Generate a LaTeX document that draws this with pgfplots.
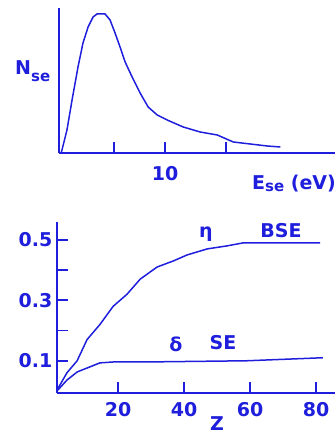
\documentclass[border=0pt]{standalone}
\usepackage{pgfplots}
\pgfplotsset{compat=1.18}
\usepackage{fontspec}
\setmainfont{DejaVu Sans}
\definecolor{ink}{RGB}{30,30,220}
\newcommand{\labfont}{\fontsize{19}{19}\selectfont\bfseries}
\newcommand{\subfont}{\fontsize{15}{15}\selectfont\bfseries}

\pgfplotsset{
  sketch/.style={
    scale only axis,
    axis lines=left,
    axis line style={-, line width=1.8pt, draw=ink},
    every tick/.style={draw=ink, line width=1.8pt},
    tick align=inside,
    ticklabel style={font=\labfont, text=ink, inner sep=0pt},
    /pgf/number format/assume math mode=true,
    clip=false,
  },
  curve/.style={draw=ink, line width=1.5pt, no marks},
}

\begin{document}
\begin{tikzpicture}[x=1pt,y=1pt]
\useasboundingbox (0,0) rectangle (335,434);
\clip (0,0) rectangle (335,434);

% energy distribution of secondary electrons
\begin{axis}[sketch,
  at={(59pt,281pt)}, anchor=south west,
  width=276pt, height=145pt,
  xmin=0, xmax=26, ymin=0, ymax=145,
  xtick={5.2,10,15.7}, xticklabels={,10,},
  ytick=\empty,
  major tick length=11pt,
  xticklabel style={anchor=north, yshift=-13pt},
]
\addplot[curve] coordinates {
  (0.20,0) (0.28,3) (0.75,23) (1.23,53) (1.79,86) (2.26,110) (2.74,126)
  (3.21,136) (3.58,139) (4.34,139) (4.81,133) (5.28,120) (5.75,106)
  (6.23,91) (6.89,76) (7.64,60) (8.40,46) (9.25,38) (10.19,33)
  (11.70,26) (13.30,21) (14.91,18) (16.42,11) (18.02,9) (19.62,7)
  (20.85,6)
};
\end{axis}

% yields versus atomic number
\begin{axis}[sketch,
  at={(57pt,41pt)}, anchor=south west,
  width=278pt, height=171pt,
  xmin=1.5, xmax=85.7, ymin=-0.0066, ymax=0.559,
  xtick={20,40,60,80}, xticklabels={20,40,60,80},
  ytick={0.1,0.2,0.3,0.4,0.5}, yticklabels={0.1,,0.3,,0.5},
  major tick length=11pt,
  xticklabel style={anchor=north, yshift=-9pt},
  yticklabel style={anchor=east, xshift=-4.5pt},
]
% backscattered electrons
\addplot[curve] coordinates {
  (1.5,0.003) (4.5,0.06) (7.6,0.10) (10.6,0.17) (14.5,0.22) (18.5,0.28)
  (22.7,0.32) (26.7,0.37) (31.8,0.41) (36.7,0.43) (40.9,0.45) (47,0.47)
  (53,0.48) (57.9,0.49) (81.2,0.49)
};
% secondary electrons
\addplot[curve] coordinates {
  (1.5,0.0) (4.5,0.036) (7.6,0.063) (10.6,0.076) (14.5,0.093) (18.5,0.096)
  (28,0.096) (59,0.10) (82,0.11)
};
\end{axis}

\begin{scope}[every node/.style={text=ink, inner sep=0pt}]
  \node[anchor=base west] at (15,359) {\labfont N\raisebox{-7pt}{\subfont se}};
  \node[anchor=base west] at (252,244) {\labfont E\raisebox{-2pt}{\subfont se} (eV)};
  \node[anchor=base] at (206,196) {\labfont η};
  \node[anchor=base] at (281,196) {\labfont BSE};
  \node[anchor=base] at (176,82) {\labfont δ};
  \node[anchor=base] at (223,84) {\labfont SE};
  \node[anchor=base] at (217,4) {\fontsize{19}{19}\selectfont\bfseries Z};
\end{scope}
\end{tikzpicture}
\end{document}
